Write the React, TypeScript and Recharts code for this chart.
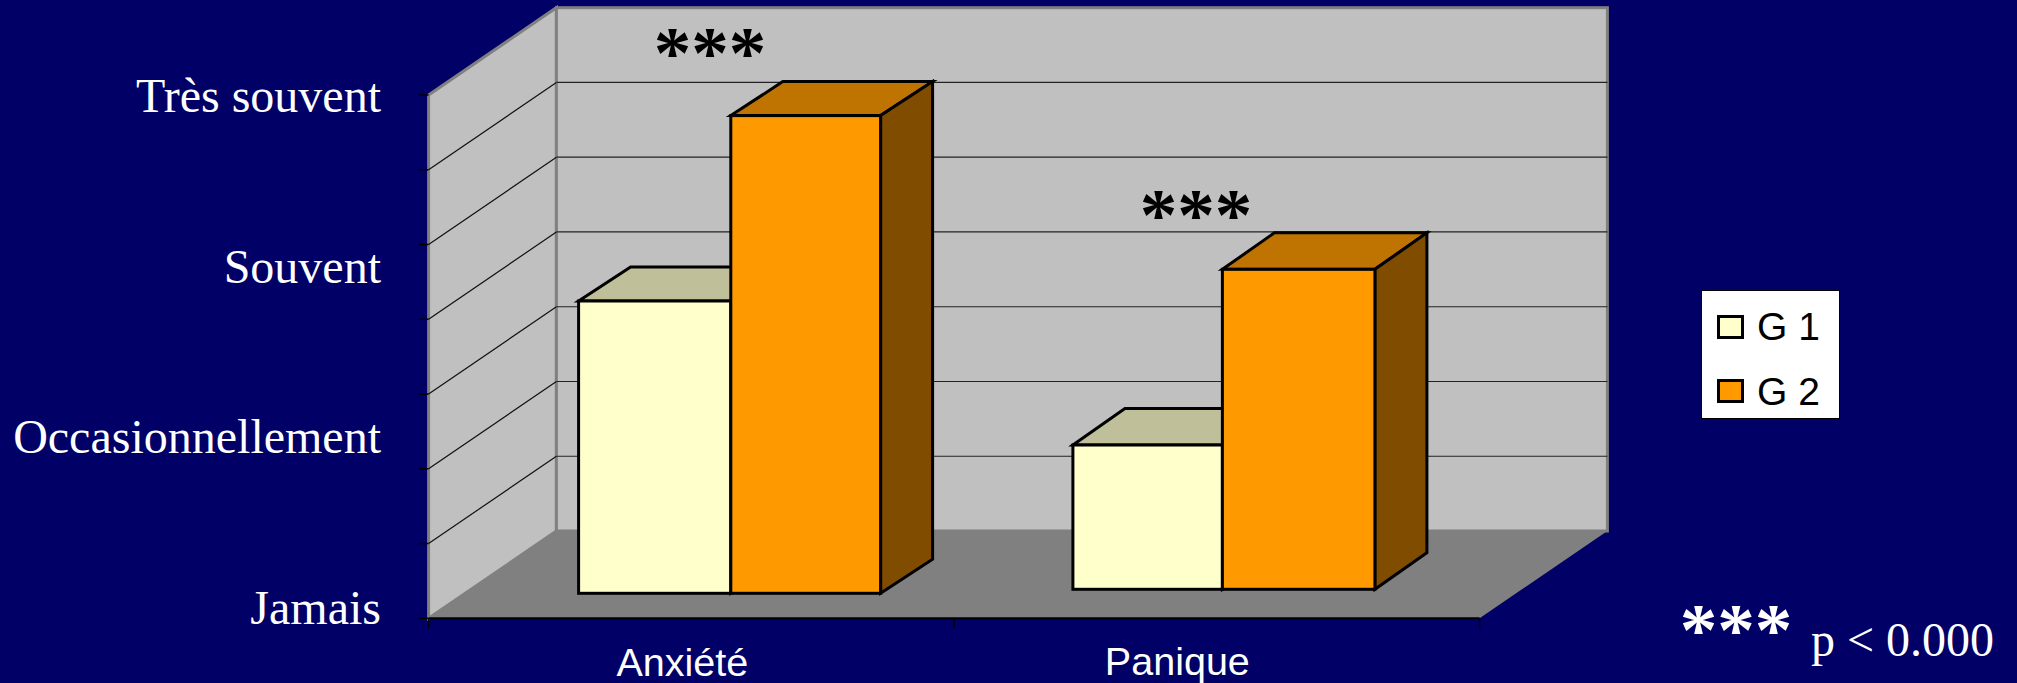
import React from 'react';
import { BarChart, Bar, XAxis, YAxis, CartesianGrid, Legend } from 'recharts';

const categories = ['Anxiété', 'Panique'];
const g1Values = [3.91, 1.93];
const g2Values = [6.39, 4.28];
const levelLabels = ['Jamais', 'Occasionnellement', 'Souvent', 'Très souvent'];
const gridTicks = [0, 1, 2, 3, 4, 5, 6, 7];
const levelTicks = [0, 1, 2, 3];
const seriesNames = ['G 1', 'G 2'];

const W = 2017, H = 683;
const NAVY = '#000066';
const SERIF = '"Liberation Serif", "Times New Roman", serif';
const SANS = '"Liberation Sans", Arial, sans-serif';
const P = { left: 428.6, right: 1479.6, top: 95, bottom: 618.3 };
const D = { x: 127.8, y: -87.3 };
const groupShift = [
  { x: 38, y: -25, depthX: 52, depthY: -34, split: 1.2 },
  { x: 6.8, y: -29, depthX: 52, depthY: -36.5, split: -1.5 },
];
const labelShift = [{ x: -9, y: 50 }, { x: -39.5, y: 48.5 }];
const XTICK_LEN = 10;
const LEGEND_W = 139;

const data = categories.map((name, i) => ({ name, g1: g1Values[i], g2: g2Values[i] }));

const Box3D = (props: any) => {
  const { x, y, width, height, index, fill, topFill, sideFill, first } = props;
  const s = groupShift[index];
  const l = x + s.x + (first ? 0 : s.split), t = y + s.y, r = x + s.x + width + (first ? s.split : 0), b = t + height;
  const w = r - l;
  const st = { stroke: '#000', strokeWidth: 3, strokeLinejoin: 'miter' as const };
  return (
    <g>
      <polygon points={`${l},${t} ${l + s.depthX},${t + s.depthY} ${r + s.depthX},${t + s.depthY} ${r},${t}`} fill={topFill} {...st} />
      <polygon points={`${r},${t} ${r + s.depthX},${t + s.depthY} ${r + s.depthX},${b + s.depthY} ${r},${b}`} fill={sideFill} {...st} />
      <rect x={l} y={t} width={w} height={height} fill={fill} {...st} />
    </g>
  );
};

const GridLine = (props: any) => {
  const y = props.y1;
  return (
    <g>
      <line x1={P.left} y1={y} x2={P.left + D.x} y2={y + D.y} stroke="#111" strokeWidth={1.2} />
      <line x1={P.left + D.x} y1={y + D.y} x2={P.right + D.x} y2={y + D.y} stroke="#222" strokeWidth={1.2} />
    </g>
  );
};

const TickMark = (props: any) => (
  <line x1={P.left - 10} x2={P.left} y1={props.y} y2={props.y} stroke="#000" strokeWidth={1.5} />
);

const LevelTick = (props: any) => (
  <text x={381} y={props.y} dy={17} textAnchor="end" fill="#fff" fontFamily={SERIF} fontSize={48}>
    {levelLabels[props.payload.value]}
  </text>
);

const CategoryTick = (props: any) => {
  const s = labelShift[props.index];
  return (
    <text x={props.x + s.x} y={props.y + s.y} textAnchor="middle" fill="#fff" fontFamily={SANS} fontSize={39.5}>
      {props.payload.value}
    </text>
  );
};

const LegendBox = () => (
  <div style={{ width: LEGEND_W, height: 129, background: '#fff', border: '1px solid #000', boxSizing: 'border-box', position: 'relative' }}>
    {seriesNames.map((n, i) => (
      <div key={n} style={{ position: 'absolute', left: 15, top: 23 + i * 64.5, height: 25, display: 'flex', alignItems: 'center' }}>
        <div style={{ width: 27, height: 24, boxSizing: 'border-box', border: '3px solid #000', background: i === 0 ? '#FFFFCC' : '#FF9900' }} />
        <span style={{ marginLeft: 13, fontFamily: SANS, fontSize: 39, color: '#000', whiteSpace: 'pre', lineHeight: '25px' }}>{n}</span>
      </div>
    ))}
  </div>
);

export default function App() {
  return (
    <div style={{ position: 'absolute', left: 0, top: 0, width: W, height: H, background: NAVY, overflow: 'hidden' }}>
      <svg width={W} height={H} style={{ position: 'absolute', left: 0, top: 0 }}>
        <polygon points={`${P.left},${P.top} ${P.left + D.x},${P.top + D.y} ${P.left + D.x},${P.bottom + D.y} ${P.left},${P.bottom}`} fill="#C0C0C0" stroke="#808080" strokeWidth={3} />
        <rect x={P.left + D.x} y={P.top + D.y} width={P.right - P.left} height={P.bottom - P.top} fill="#C0C0C0" stroke="#808080" strokeWidth={3} />
        <polygon points={`${P.left},${P.bottom} ${P.left + D.x},${P.bottom + D.y} ${P.right + D.x},${P.bottom + D.y} ${P.right},${P.bottom}`} fill="#808080" />
      </svg>
      <BarChart
        width={W}
        height={H}
        data={data}
        barSize={151}
        barGap={0}
        margin={{ left: 0, top: P.top, right: W - P.right - LEGEND_W, bottom: H - P.bottom - 60 }}
        style={{ position: 'absolute', left: 0, top: 0 }}
      >
        <CartesianGrid vertical={false} horizontal={(p: any) => <GridLine key={p.key ?? p.y1} {...p} />} horizontalValues={gridTicks.slice(1, 7)} />
        <XAxis dataKey="name" height={60} stroke="#000" strokeWidth={2} tickLine={false} interval={0} tick={<CategoryTick />} />
        <YAxis type="number" domain={[0, 7]} ticks={gridTicks} width={10} axisLine={false} tickLine={false} interval={0} tick={<TickMark />} />
        <YAxis yAxisId="levels" type="number" domain={[-0.069, 3]} ticks={levelTicks} width={418.6} axisLine={false} tickLine={false} interval={0} allowDataOverflow tick={<LevelTick />} />
        <Bar dataKey="g1" name={seriesNames[0]} fill="#FFFFCC" isAnimationActive={false} shape={(p: any) => <Box3D {...p} first topFill="#BFBF99" sideFill="#808066" />} />
        <Bar dataKey="g2" name={seriesNames[1]} fill="#FF9900" isAnimationActive={false} shape={(p: any) => <Box3D {...p} topFill="#BF7300" sideFill="#804D00" />} />
        <Legend layout="vertical" align="right" verticalAlign="middle" content={<LegendBox />} wrapperStyle={{ left: 1701, top: 290, width: LEGEND_W, height: 129, bottom: 'auto', right: 'auto' }} />
        <g>
          {[P.left, (P.left + P.right) / 2, P.right].map((x) => (
            <line key={x} x1={x} x2={x} y1={P.bottom} y2={P.bottom + XTICK_LEN} stroke="#000" strokeWidth={1.5} />
          ))}
        </g>
        <text x={710} y={78} textAnchor="middle" fontFamily={SERIF} fontWeight="bold" fontSize={75} fill="#000">***</text>
        <text x={1196} y={239.5} textAnchor="middle" fontFamily={SERIF} fontWeight="bold" fontSize={75} fill="#000">***</text>
        <text x={1736} y={655} textAnchor="middle" fontFamily={SERIF} fontWeight="bold" fontSize={75} fill="#fff">***</text>
        <text x={1811} y={656} fontFamily={SERIF} fontSize={48} fill="#fff">p &lt; 0.000</text>
      </BarChart>
    </div>
  );
}
